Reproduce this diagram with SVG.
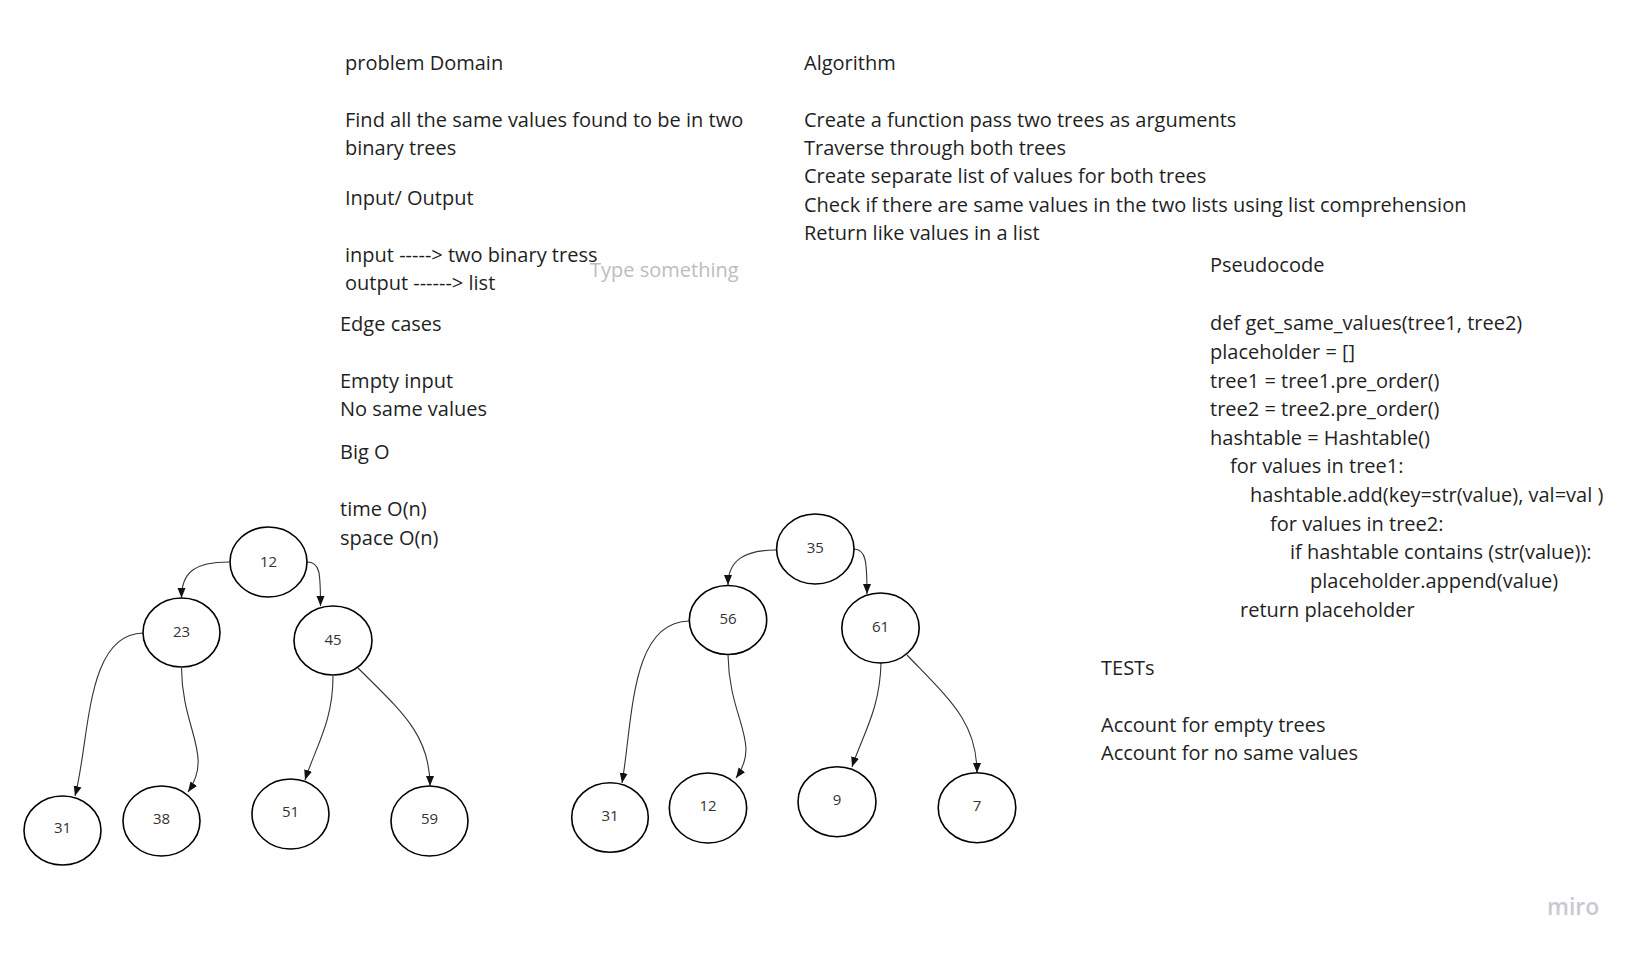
<svg xmlns="http://www.w3.org/2000/svg" width="1636" height="954" viewBox="0 0 1636 954">
<style>
.t{font-family:"Open Sans","Noto Sans",sans-serif;font-size:20px;fill:#1f1f1f}
.ph{font-family:"Open Sans","Noto Sans",sans-serif;font-size:20px;fill:#bdbdbd}
.n ellipse{fill:#fff;stroke:#000;stroke-width:1.6}
.n text{font-family:"Open Sans","Noto Sans",sans-serif;font-size:15px;fill:#333;text-anchor:middle}
.c path{fill:none;stroke:#333;stroke-width:1.1;marker-end:url(#ah)}
</style>
<defs>
<marker id="ah" viewBox="0 0 10 10" refX="10" refY="5" markerWidth="10" markerHeight="10" markerUnits="userSpaceOnUse" orient="auto">
<path d="M0,1 L10,5 L0,9 z" fill="#111"/>
</marker>
</defs>
<rect width="1636" height="954" fill="#fff"/>

<g id="problem-domain">
<text class="t" x="345" y="70">problem Domain</text>
<text class="t" x="345" y="127">Find all the same values found to be in two</text>
<text class="t" x="345" y="155">binary trees</text>
<text class="t" x="345" y="205">Input/ Output</text>
<text class="t" x="345" y="262">input -----&gt; two binary tress</text>
<text class="t" x="345" y="290">output ------&gt; list</text>
</g>
<text class="ph" x="590" y="277">Type something</text>

<g id="edge-cases">
<text class="t" x="340" y="331">Edge cases</text>
<text class="t" x="340" y="388">Empty input</text>
<text class="t" x="340" y="416">No same values</text>
<text class="t" x="340" y="459">Big O</text>
<text class="t" x="340" y="516">time O(n)</text>
<text class="t" x="340" y="545">space O(n)</text>
</g>

<g id="algorithm">
<text class="t" x="804" y="70">Algorithm</text>
<text class="t" x="804" y="127">Create a function pass two trees as arguments</text>
<text class="t" x="804" y="155">Traverse through both trees</text>
<text class="t" x="804" y="183">Create separate list of values for both trees</text>
<text class="t" x="804" y="212">Check if there are same values in the two lists using list comprehension</text>
<text class="t" x="804" y="240">Return like values in a list</text>
</g>

<g id="pseudocode">
<text class="t" x="1210" y="272">Pseudocode</text>
<text class="t" x="1210" y="330">def get_same_values(tree1, tree2)</text>
<text class="t" x="1210" y="359">placeholder = []</text>
<text class="t" x="1210" y="388">tree1 = tree1.pre_order()</text>
<text class="t" x="1210" y="416">tree2 = tree2.pre_order()</text>
<text class="t" x="1210" y="445">hashtable = Hashtable()</text>
<text class="t" x="1230" y="473">for values in tree1:</text>
<text class="t" x="1250" y="502">hashtable.add(key=str(value), val=val )</text>
<text class="t" x="1270" y="531">for values in tree2:</text>
<text class="t" x="1290" y="559">if hashtable contains (str(value)):</text>
<text class="t" x="1310" y="588">placeholder.append(value)</text>
<text class="t" x="1240" y="617">return placeholder</text>
</g>

<g id="tests">
<text class="t" x="1101" y="675">TESTs</text>
<text class="t" x="1101" y="732">Account for empty trees</text>
<text class="t" x="1101" y="760">Account for no same values</text>
</g>

<g id="connectors" class="c">
<path d="M229,562 C195,562 181.5,572 181.5,598"/>
<path d="M307,562 C320,562 320.5,572 320.5,606"/>
<path d="M143,633 C85,634 90,740 75,796"/>
<path d="M181.5,668 C182,730 214,755 188,792"/>
<path d="M333,676 C333,722 316,746 305,780"/>
<path d="M358,668 C402,712 430,735 430,786"/>
<path d="M776,550 C745,550 728,560 728,585"/>
<path d="M854,549 C866,549 867,562 867,594"/>
<path d="M689,621 C630,622 633,720 622,783"/>
<path d="M728,655 C729,720 762,742 736,778"/>
<path d="M881,663 C880,710 862,736 852,767"/>
<path d="M907,655 C950,700 977,722 977,773"/>
</g>

<g id="t1-12" class="n"><ellipse cx="268.5" cy="562" rx="38.5" ry="35"/><text x="268.5" y="567">12</text></g>
<g id="t1-23" class="n"><ellipse cx="181.5" cy="632.5" rx="38.5" ry="34.5"/><text x="181.5" y="637">23</text></g>
<g id="t1-45" class="n"><ellipse cx="333" cy="640.5" rx="39" ry="34.5"/><text x="333" y="645">45</text></g>
<g id="t1-31" class="n"><ellipse cx="62.5" cy="830.5" rx="38.5" ry="34.5"/><text x="62.5" y="833">31</text></g>
<g id="t1-38" class="n"><ellipse cx="161.5" cy="821" rx="38.5" ry="35"/><text x="161.5" y="824">38</text></g>
<g id="t1-51" class="n"><ellipse cx="290.5" cy="814" rx="38.5" ry="35"/><text x="290.5" y="817">51</text></g>
<g id="t1-59" class="n"><ellipse cx="429.5" cy="821" rx="38.5" ry="35"/><text x="429.5" y="824">59</text></g>

<g id="t2-35" class="n"><ellipse cx="815.3" cy="549" rx="38.7" ry="35"/><text x="815.3" y="553">35</text></g>
<g id="t2-56" class="n"><ellipse cx="728" cy="620" rx="38.7" ry="34.5"/><text x="728" y="624">56</text></g>
<g id="t2-61" class="n"><ellipse cx="880.5" cy="628" rx="38.7" ry="35"/><text x="880.5" y="632">61</text></g>
<g id="t2-31" class="n"><ellipse cx="610" cy="817.5" rx="38.3" ry="34.8"/><text x="610" y="821">31</text></g>
<g id="t2-12" class="n"><ellipse cx="708" cy="808" rx="38.7" ry="35"/><text x="708" y="811">12</text></g>
<g id="t2-9" class="n"><ellipse cx="837" cy="801.7" rx="39" ry="35"/><text x="837" y="805">9</text></g>
<g id="t2-7" class="n"><ellipse cx="977" cy="807.7" rx="38.8" ry="35"/><text x="977" y="811">7</text></g>

<text x="1547" y="915" style="font-family:'Open Sans','Noto Sans',sans-serif;font-size:23px;font-weight:600;fill:#c9c9d1">miro</text>
</svg>
